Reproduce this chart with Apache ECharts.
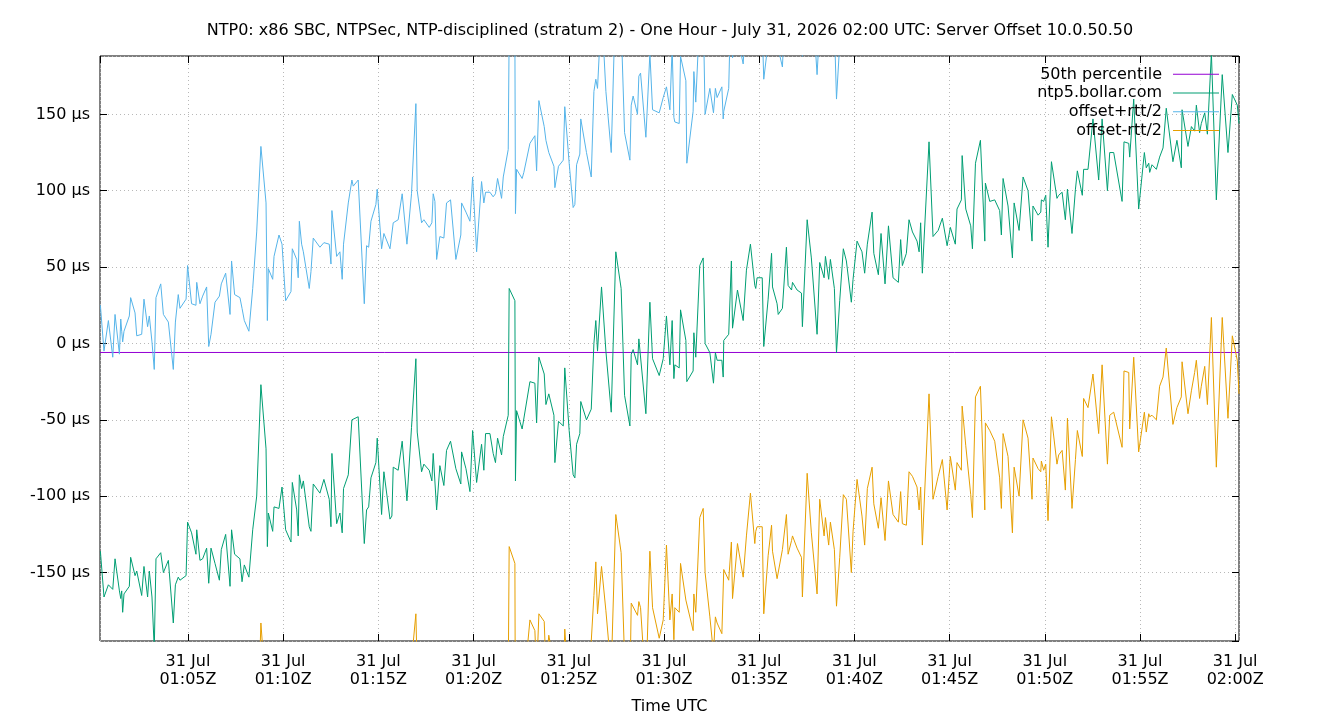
<!DOCTYPE html>
<html>
<head>
<meta charset="utf-8">
<title>NTP0 server offset</title>
<script src="https://cdn.jsdelivr.net/npm/echarts@6/dist/echarts.min.js"></script>
<style>
  html, body { margin: 0; padding: 0; background: #fff; }
  #chart { width: 1340px; height: 720px; }
</style>
</head>
<body>
<div id="chart"></div>
<script>
// sample times, minutes after 01:00 UTC
var times = [
  0.40,0.59,0.82,1.05,1.17,1.40,1.47,1.52,1.57,1.64,
  1.92,1.99,2.22,2.31,2.57,2.69,2.88,2.97,3.11,3.23,
  3.32,3.57,3.71,3.97,4.23,4.34,4.49,4.58,4.90,4.98,
  5.19,5.42,5.46,5.63,5.77,5.98,6.09,6.21,6.42,6.65,
  6.75,6.98,7.21,7.29,7.45,7.73,7.84,7.96,8.20,8.40,
  8.61,8.83,9.10,9.17,9.22,9.45,9.52,9.78,9.94,10.13,
  10.41,10.48,10.71,10.79,10.85,10.97,11.06,11.37,11.46,11.58,
  11.93,12.14,12.42,12.51,12.56,12.81,12.98,13.10,13.17,13.42,
  13.61,13.68,13.94,14.26,14.38,14.49,14.61,14.87,14.94,15.17,
  15.29,15.61,15.71,15.78,16.04,16.25,16.50,16.74,16.97,17.04,
  17.27,17.39,17.67,17.81,17.88,17.97,18.06,18.23,18.44,18.58,
  18.79,19.07,19.33,19.37,19.60,19.81,19.95,20.16,20.42,20.54,
  20.63,20.86,21.03,21.15,21.26,21.47,21.56,21.82,21.87,22.17,
  22.20,22.26,22.55,22.64,22.96,23.22,23.31,23.43,23.71,23.80,
  23.95,24.22,24.27,24.46,24.71,24.79,25.02,25.23,25.32,25.41,
  25.58,25.63,25.93,26.18,26.32,26.42,26.51,26.72,26.95,27.23,
  27.47,27.75,27.93,28.21,28.28,28.38,28.61,28.68,28.77,29.05,
  29.26,29.40,29.75,29.96,30.13,30.31,30.43,30.52,30.57,30.80,
  30.87,31.15,31.20,31.53,31.57,31.67,31.88,32.06,32.16,32.41,
  32.60,32.70,32.79,33.04,33.11,33.14,33.40,33.54,33.60,33.86,
  34.16,34.33,34.54,34.77,34.82,34.89,35.16,35.24,35.47,35.65,
  35.70,35.94,36.00,36.22,36.43,36.52,36.70,36.75,36.99,37.22,
  37.27,37.52,37.74,38.04,38.18,38.41,38.48,38.65,38.74,38.95,
  39.06,39.23,39.42,39.58,39.84,39.93,40.14,40.40,40.54,40.68,
  40.93,41.02,41.26,41.40,41.61,41.79,42.03,42.31,42.43,42.52,
  42.73,42.87,43.05,43.29,43.40,43.48,43.57,43.92,44.13,44.40,
  44.62,44.87,45.04,45.30,45.39,45.62,45.66,45.85,46.11,46.20,
  46.36,46.62,46.85,46.88,47.11,47.37,47.63,47.72,47.81,48.07,
  48.30,48.39,48.65,48.86,49.12,49.33,49.38,49.65,49.79,49.82,
  49.94,50.05,50.17,50.35,50.64,50.73,50.91,51.08,51.19,51.43,
  51.61,51.71,51.97,52.04,52.27,52.53,52.83,53.01,53.29,53.41,
  53.62,54.06,54.16,54.41,54.46,54.67,54.93,55.23,55.33,55.46,
  55.51,55.63,55.86,56.03,56.21,56.38,56.73,56.94,57.17,57.21,
  57.52,57.70,57.87,57.96,58.13,58.22,58.40,58.54,58.75,59.01,
  59.32,59.62,59.85,60.11,60.20
];

// server offset, microseconds
var offsets = [
  -136,-166,-158,-161,-141,-162,-167,-162,-176,-164,
  -159,-140,-152,-149,-165,-146,-166,-149,-166,-200,
  -141,-137,-150,-142,-183,-158,-153,-155,-152,-117,
  -124,-138,-122,-142,-141,-134,-157,-134,-144,-155,
  -135,-125,-159,-122,-138,-141,-156,-145,-153,-122,
  -100,-27,-69,-133,-111,-123,-107,-108,-94,-122,
  -130,-91,-109,-126,-86,-95,-90,-120,-123,-92,
  -98,-89,-102,-120,-72,-118,-111,-124,-95,-86,
  -50,-50,-48,-131,-109,-107,-88,-78,-62,-112,
  -84,-115,-113,-81,-83,-64,-103,-55,-10,-58,
  -84,-79,-83,-90,-72,-73,-109,-80,-93,-70,
  -64,-82,-92,-71,-82,-97,-57,-91,-66,-83,
  -59,-59,-72,-78,-62,-73,-61,-47,36,28,
  -90,-44,-56,-56,-25,-26,-52,-9,-20,-40,
  -33,-47,-78,-51,-54,-16,-57,-86,-88,-66,
  -59,-38,-50,-43,0,15,-5,37,-5,-45,
  60,36,-34,-54,-7,-4,-14,3,2,-46,
  27,-10,-21,-10,18,-14,15,-23,-14,-16,
  22,2,-25,-18,7,-9,51,56,0,-6,
  -26,-6,-11,-11,-22,2,6,54,10,35,
  15,48,65,38,36,43,43,-2,29,59,
  37,26,19,23,63,38,35,40,35,33,
  11,81,56,6,53,43,57,42,55,36,
  -6,28,62,54,27,42,67,60,46,65,
  86,59,45,72,39,77,43,40,68,51,
  59,81,73,67,60,79,46,132,70,74,
  82,64,76,65,88,94,123,88,77,62,
  118,133,67,105,93,94,87,71,108,90,
  56,92,74,109,100,67,90,84,86,94,
  93,97,63,119,95,97,99,81,101,72,
  101,113,97,114,114,147,107,147,100,125,
  125,93,132,131,122,160,88,125,115,118,
  112,117,114,122,128,154,119,133,115,153,
  129,142,139,156,138,144,151,137,190,94,
  176,125,163,156,144
];

// half of the round trip time for each sample, microseconds
var halfRtt = [
  161,161,173,152,160,155,183,170,177,172,
  177,170,172,154,171,175,177,167,167,183,
  171,176,169,156,166,172,185,178,181,168,
  150,163,162,168,172,171,155,140,171,186,
  174,171,178,176,170,171,179,160,161,158,
  173,156,161,148,160,165,164,179,159,150,
  164,153,164,169,166,160,150,156,170,161,
  161,155,167,172,159,175,171,166,160,178,
  157,153,155,157,173,170,168,169,163,174,
  156,177,175,160,164,162,168,153,167,158,
  163,160,159,169,170,166,164,150,162,162,
  158,137,163,163,168,177,166,151,172,175,
  158,158,168,176,170,168,170,174,169,172,
  175,158,164,168,156,162,165,168,162,173,
  158,163,180,167,174,171,175,175,179,183,
  183,185,175,152,165,158,172,183,170,170,
  172,173,172,174,163,166,164,172,175,181,
  163,163,172,171,150,167,179,171,159,160,
  166,170,143,170,171,167,165,164,150,173,
  177,173,172,179,169,150,161,184,177,166,
  168,174,163,169,159,163,163,175,168,178,
  173,180,174,158,175,176,164,166,169,173,
  177,166,180,170,155,169,171,174,172,171,
  166,168,161,156,177,165,156,173,178,160,
  167,164,166,173,168,167,155,157,165,169,
  178,165,160,161,169,173,178,165,172,161,
  158,173,150,161,166,177,164,155,176,176,
  153,161,176,157,150,158,175,179,167,164,
  180,173,174,159,162,169,165,166,170,171,
  176,176,179,167,174,170,169,177,150,180,
  177,170,171,150,156,167,166,161,179,172,
  170,161,150,150,178,169,159,170,173,164,
  160,164,164,150,150,157,172,175,150,165,
  175,173,158,167,174,172,166,177,173,175,
  159,174,158,167,177
];

var median = -5.9;          // 50th percentile of the offsets
var xMin = 0.38, xMax = 60.2;
var yMin = -194.8, yMax = 188.2;

var font = 'DejaVu Sans';
var fontSize = 16;

function pad(n) { return (n < 10 ? '0' : '') + n; }
function timeLabel(v) {
  var m = Math.round(v);
  return '31 Jul\n' + pad(1 + Math.floor(m / 60)) + ':' + pad(m % 60) + 'Z';
}

var offsetData = [], upperData = [], lowerData = [];
for (var i = 0; i < times.length; i++) {
  offsetData.push([times[i], offsets[i]]);
  upperData.push([times[i], offsets[i] + halfRtt[i]]);
  lowerData.push([times[i], offsets[i] - halfRtt[i]]);
}

function lineSeries(name, color, data) {
  return {
    name: name,
    type: 'line',
    data: data,
    symbol: 'none',
    clip: true,
    color: color,
    lineStyle: { width: 1, color: color },
    emphasis: { disabled: true }
  };
}

var tickStyle = { inside: true, length: 7, lineStyle: { color: '#000' } };
var gridLine = { show: true, lineStyle: { color: '#b8b8b8', type: [1, 3] } };

var chart = echarts.init(document.getElementById('chart'));
var option = {
  animation: false,
  backgroundColor: '#fff',
  title: {
    text: 'NTP0: x86 SBC, NTPSec, NTP-disciplined (stratum 2) - One Hour - July 31, 2026 02:00 UTC: Server Offset 10.0.50.50',
    left: 'center',
    top: 18,
    textStyle: { fontFamily: font, fontSize: fontSize, fontWeight: 'normal', color: '#000' }
  },
  grid: {
    left: 100, right: 101, top: 56, bottom: 79,
    show: true, borderColor: '#000', borderWidth: 1
  },
  legend: {
    orient: 'vertical',
    right: 121,
    top: 65,
    padding: 0,
    align: 'right',
    itemGap: 0,
    itemWidth: 46,
    itemHeight: 1,
    icon: 'rect',
    textStyle: { fontFamily: font, fontSize: fontSize, color: '#000', lineHeight: 18.7, padding: [0, 6, 0, 0] },
    data: ['50th percentile', 'ntp5.bollar.com', 'offset+rtt/2', 'offset-rtt/2']
  },
  xAxis: [{
    type: 'value',
    min: xMin, max: xMax,
    splitNumber: 12,
    position: 'bottom',
    axisLine: { show: false, onZero: false },
    axisTick: tickStyle,
    axisLabel: {
      formatter: timeLabel, showMinLabel: false, showMaxLabel: false,
      fontFamily: font, fontSize: fontSize, color: '#000', lineHeight: 18, margin: 12
    },
    splitLine: gridLine,
    name: 'Time UTC',
    nameLocation: 'middle',
    nameGap: 58,
    nameTextStyle: { fontFamily: font, fontSize: fontSize, color: '#000' }
  }, {
    type: 'value',
    min: xMin, max: xMax,
    splitNumber: 12,
    position: 'top',
    axisLine: { show: false, onZero: false },
    axisTick: tickStyle,
    axisLabel: { show: false },
    splitLine: { show: false }
  }],
  yAxis: [{
    type: 'value',
    min: yMin, max: yMax,
    splitNumber: 8,
    position: 'left',
    axisLine: { show: false, onZero: false },
    axisTick: { show: true, inside: true, length: 7, lineStyle: { color: '#000' } },
    axisLabel: {
      formatter: function (v) { return v + ' µs'; },
      showMinLabel: false, showMaxLabel: false,
      fontFamily: font, fontSize: fontSize, color: '#000', margin: 10
    },
    splitLine: gridLine
  }, {
    type: 'value',
    min: yMin, max: yMax,
    splitNumber: 8,
    position: 'right',
    axisLine: { show: false, onZero: false },
    axisTick: { show: true, inside: true, length: 7, lineStyle: { color: '#000' } },
    axisLabel: { show: false },
    splitLine: { show: false }
  }],
  series: [
    lineSeries('50th percentile', '#9400d3', [[xMin, median], [xMax, median]]),
    lineSeries('ntp5.bollar.com', '#009e73', offsetData),
    lineSeries('offset+rtt/2', '#56b4e9', upperData),
    lineSeries('offset-rtt/2', '#e69f00', lowerData)
  ]
};
chart.setOption(option);
</script>
</body>
</html>
